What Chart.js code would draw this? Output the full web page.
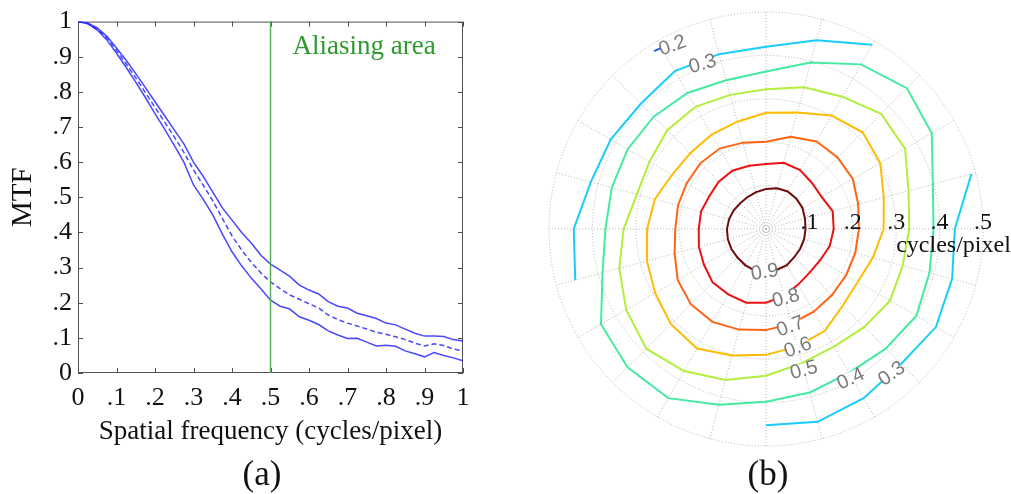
<!DOCTYPE html>
<html>
<head>
<meta charset="utf-8">
<title>MTF</title>
<script src="https://cdn.jsdelivr.net/npm/chart.js@4.4.1/dist/chart.umd.min.js"></script>
<style>
    body { margin: 0; background: #fff; }
    #page { position: relative; width: 1011px; height: 494px; overflow: hidden; }
    canvas { position: absolute; top: 0; }
    #mtfChart { left: 0; }
    #polarChart { left: 540px; }
    .caption { position: absolute; top: 456px; width: 80px; text-align: center;
               font: 35px 'Liberation Serif', serif; line-height: 35px; color: #111; }
</style>
</head>
<body>
<div id="page">
    <canvas id="mtfChart" width="500" height="455"></canvas>
    <canvas id="polarChart" width="471" height="455"></canvas>
    <div class="caption" style="left:222px">(a)</div>
    <div class="caption" style="left:728px">(b)</div>
</div>
<script>
// (a) MTF against spatial frequency
var freq = [0, .025, .05, .075, .1, .125, .15, .175, .2, .225, .25, .275, .3, .325, .35, .375, .4,
            .425, .45, .475, .5, .525, .55, .575, .6, .625, .65, .675, .7, .725, .75, .775, .8,
            .825, .85, .875, .9, .925, .95, .975, 1];
var mtfUpper = [1.0, .996, .982, .958, .925, .89, .852, .812, .772, .732, .692, .652, .6, .56, .515, .47, .435,
                .40, .37, .335, .31, .293, .275, .25, .236, .225, .203, .19, .185, .17, .163, .155, .142,
                .137, .125, .113, .105, .105, .104, .095, .091];
var mtfMean = [1.0, .995, .979, .953, .918, .88, .84, .798, .756, .714, .672, .628, .578, .535, .49, .44, .39,
               .35, .315, .285, .259, .24, .222, .21, .197, .185, .165, .152, .142, .134, .125, .116, .11,
               .103, .095, .085, .077, .083, .078, .068, .063];
var mtfLower = [1.0, .994, .976, .948, .91, .87, .828, .784, .738, .694, .648, .6, .535, .495, .45, .395, .345,
                .305, .27, .24, .207, .19, .182, .16, .15, .138, .12, .108, .098, .099, .088, .077, .079,
                .076, .063, .055, .046, .058, .05, .043, .035];
var aliasFreq = 0.5;
var tickText = ['0', '.1', '.2', '.3', '.4', '.5', '.6', '.7', '.8', '.9', '1'];

// (b) MTF contours in polar frequency space, radius in cycles/pixel,
// angles counter-clockwise from the right
var angles = [0, 15, 30, 45, 60, 75, 90, 105, 120, 135, 150, 165,
              180, 195, 210, 225, 240, 255, 270, 285, 300, 315, 330, 345];
var contour90 = [.091, .093, .097, .099, .100, .097, .092, .088, .085, .084, .086, .088,
                 .090, .091, .092, .093, .096, .099, .098, .097, .096, .092, .091, .091];
var contour80 = [.156, .159, .148, .150, .157, .158, .150, .151, .155, .154, .151, .155,
                 .155, .160, .165, .174, .174, .176, .170, .160, .148, .142, .144, .152];
var contour70 = [.214, .220, .231, .233, .233, .220, .201, .206, .214, .214, .211, .210,
                 .209, .218, .235, .245, .247, .240, .233, .226, .220, .215, .213, .213];
var contour60 = [.271, .281, .304, .315, .302, .278, .268, .256, .251, .247, .250, .265,
                 .274, .284, .295, .310, .318, .302, .290, .280, .271, .250, .244, .255];
var contour50 = [.330, .340, .370, .375, .352, .338, .322, .320, .325, .322, .310, .308,
                 .328, .350, .372, .390, .378, .360, .338, .320, .313, .320, .330, .326];
var contour40 = [.386, .398, .441, .459, .438, .397, .363, .355, .362, .366, .368, .368,
                 .370, .390, .439, .451, .450, .419, .398, .390, .383, .390, .400, .390];
var contour30 = [.435, .490, null, null, .490, .450, .420, .417, .420, .408, .413, .418,
                 .443, .455, null, null, null, null, .452, .460, .450, .440, .452, .444];
var contour20 = [null, null, null, null, null, null, null, null, .482, null, null, null,
                 null, null, null, null, null, null, null, null, null, null, null, null];
var ringTicks = [.1, .2, .3, .4, .5];
var ringText = ['.1', '.2', '.3', '.4', '.5'];

Chart.defaults.font.family = "'Liberation Serif', 'Times New Roman', serif";
Chart.defaults.color = '#111';

function pairs(ys) {
    return ys.map(function(v, i) { return {x: freq[i], y: v}; });
}

// frame with inward ticks on all four sides, like the original plot box
var boxTicks = {
    id: 'boxTicks',
    beforeDatasetsDraw: function(chart) {
        var ctx = chart.ctx, a = chart.chartArea, x = chart.scales.x, y = chart.scales.y;
        ctx.save();
        ctx.strokeStyle = '#505050';
        ctx.lineWidth = 1;
        ctx.strokeRect(a.left + .5, a.top + .5, a.right - a.left - 1, a.bottom - a.top - 1);
        ctx.beginPath();
        x.ticks.forEach(function(t) {
            var px = Math.round(x.getPixelForValue(t.value)) + .5;
            ctx.moveTo(px, a.bottom); ctx.lineTo(px, a.bottom - 5);
            ctx.moveTo(px, a.top); ctx.lineTo(px, a.top + 5);
        });
        y.ticks.forEach(function(t) {
            var py = Math.round(y.getPixelForValue(t.value)) + .5;
            ctx.moveTo(a.left, py); ctx.lineTo(a.left + 5, py);
            ctx.moveTo(a.right, py); ctx.lineTo(a.right - 5, py);
        });
        ctx.stroke();
        ctx.restore();
    },
    afterDraw: function(chart) {
        var ctx = chart.ctx;
        ctx.save();
        ctx.font = "27px 'Liberation Serif', serif";
        ctx.fillStyle = '#2f9a2f';
        ctx.textAlign = 'center';
        ctx.textBaseline = 'middle';
        ctx.fillText('Aliasing area', chart.scales.x.getPixelForValue(0.743), chart.scales.y.getPixelForValue(0.929));
        ctx.restore();
    }
};

var mtfChart = new Chart(document.getElementById('mtfChart'), {
    type: 'line',
    data: {
        datasets: [{
            data: [{x: aliasFreq, y: 0}, {x: aliasFreq, y: 1}],
            borderColor: '#5aae5a',
            borderWidth: 1.5,
            pointRadius: 0
        }, {
            data: pairs(mtfUpper),
            borderColor: 'rgba(40, 40, 255, 0.85)',
            borderWidth: 1.5,
            pointRadius: 0
        }, {
            data: pairs(mtfMean),
            borderColor: 'rgba(40, 40, 255, 0.85)',
            borderWidth: 1.5,
            borderDash: [5, 3],
            pointRadius: 0
        }, {
            data: pairs(mtfLower),
            borderColor: 'rgba(40, 40, 255, 0.85)',
            borderWidth: 1.5,
            pointRadius: 0
        }]
    },
    options: {
        responsive: false,
        animation: false,
        layout: { padding: { top: 21, right: 37, left: 0, bottom: 0 } },
        plugins: { legend: { display: false }, tooltip: { enabled: false } },
        scales: {
            x: {
                type: 'linear', min: 0, max: 1,
                afterFit: function(s) { s.height = 82; },
                grid: { display: false, drawTicks: false },
                border: { display: false },
                ticks: {
                    stepSize: 0.1, autoSkip: false, maxRotation: 0, padding: 10,
                    font: { size: 26 },
                    callback: function(v) { return tickText[Math.round(v * 10)]; }
                },
                title: { display: true, text: 'Spatial frequency (cycles/pixel)', font: { size: 27 }, padding: { bottom: 7 } }
            },
            y: {
                min: 0, max: 1,
                afterFit: function(s) { s.width = 78; },
                grid: { display: false, drawTicks: false },
                border: { display: false },
                ticks: {
                    stepSize: 0.1, autoSkip: false, padding: 6,
                    font: { size: 26 },
                    callback: function(v) { return tickText[Math.round(v * 10)]; }
                },
                title: { display: true, text: 'MTF', font: { size: 29 }, padding: { top: 6 } }
            }
        }
    },
    plugins: [boxTicks]
});

// radar goes clockwise from the right, the contour lists go counter-clockwise
function toRadar(arr) {
    return arr.map(function(_, i) { return arr[(arr.length - i) % arr.length]; });
}

function polarXY(s, angleDeg, r) {
    var d = s.getDistanceFromCenterForValue(r);
    var a = angleDeg * Math.PI / 180;
    return { x: s.xCenter + d * Math.cos(a), y: s.yCenter - d * Math.sin(a) };
}

// inline contour labels (where the line is broken in the original)
var labelSpots = [
    { text: '0.9', angle: 268, r: .098, rot: -8 },
    { text: '0.8', angle: 286, r: .164, rot: -15 },
    { text: '0.7', angle: 284, r: .230, rot: -20 },
    { text: '0.6', angle: 285, r: .281, rot: -20 },
    { text: '0.5', angle: 285, r: .335, rot: -15 },
    { text: '0.4', angle: 299.5, r: .395, rot: -25 },
    { text: '0.3', angle: 311, r: .440, rot: -35 },
    { text: '0.3', angle: 111, r: .409, rot: -15 },
    { text: '0.2', angle: 117, r: .476, rot: -20 }
];

var polarText = {
    id: 'polarText',
    afterDatasetsDraw: function(chart) {
        var ctx = chart.ctx, s = chart.scales.r;
        ctx.save();
        ctx.font = "20px 'Liberation Sans', Arial, sans-serif";
        ctx.textAlign = 'center';
        ctx.textBaseline = 'middle';
        labelSpots.forEach(function(l) {
            var p = polarXY(s, l.angle, l.r);
            var w = ctx.measureText(l.text).width;
            ctx.save();
            ctx.translate(p.x, p.y);
            ctx.rotate(l.rot * Math.PI / 180);
            ctx.fillStyle = '#fff';
            ctx.fillRect(-w / 2 + 2, -6, w - 4, 12);
            ctx.fillStyle = '#7a7a7a';
            ctx.fillText(l.text, 0, 1);
            ctx.restore();
        });
        ctx.font = "24px 'Liberation Serif', serif";
        ctx.fillStyle = '#111';
        ctx.textBaseline = 'alphabetic';
        ringTicks.forEach(function(v, i) {
            ctx.fillText(ringText[i], s.xCenter + s.getDistanceFromCenterForValue(v), s.yCenter);
        });
        ctx.textAlign = 'left';
        ctx.fillText('cycles/pixel', s.xCenter + s.getDistanceFromCenterForValue(.3), s.yCenter + 23);
        ctx.restore();
    }
};

function contourSet(values, color) {
    return {
        data: toRadar(values),
        borderColor: color,
        borderWidth: 2,
        pointRadius: 0,
        fill: false,
        spanGaps: false
    };
}

var lonePiece = contourSet(contour20, '#1f5cff');
lonePiece.pointStyle = 'line';
lonePiece.pointRadius = 8;
lonePiece.pointBorderWidth = 2;
lonePiece.pointBorderColor = '#1f5cff';
lonePiece.pointRotation = -24;

var polarChart = new Chart(document.getElementById('polarChart'), {
    type: 'radar',
    data: {
        labels: toRadar(angles),
        datasets: [
            contourSet(contour90, '#6e0c0c'),
            contourSet(contour80, '#ee1111'),
            contourSet(contour70, '#ff6414'),
            contourSet(contour60, '#ffbb00'),
            contourSet(contour50, '#b2ee3c'),
            contourSet(contour40, '#44eaa0'),
            contourSet(contour30, '#18cdfa'),
            lonePiece
        ]
    },
    options: {
        responsive: false,
        animation: false,
        layout: { padding: { left: 9, right: 28, top: 12, bottom: 9 } },
        plugins: { legend: { display: false }, tooltip: { enabled: false } },
        elements: { line: { tension: 0 } },
        scales: {
            r: {
                min: 0, max: 0.5,
                startAngle: 90,
                ticks: { display: false, stepSize: 0.1 },
                pointLabels: { display: false },
                grid: { circular: true, color: '#b4b4b4', lineWidth: 1 },
                border: { dash: [1, 2] },
                angleLines: { color: '#b4b4b4', lineWidth: 1, borderDash: [1, 2] }
            }
        }
    },
    plugins: [polarText]
});
</script>
</body>
</html>
